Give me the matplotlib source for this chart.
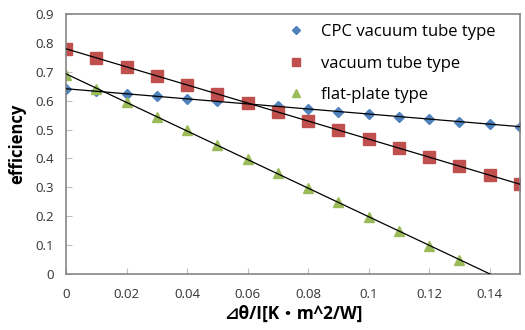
import numpy as np
import matplotlib
matplotlib.use("Agg")
import matplotlib.pyplot as plt

x_cpc = [0, 0.01, 0.02, 0.03, 0.04, 0.05, 0.06, 0.07, 0.08, 0.09, 0.10, 0.11, 0.12, 0.13, 0.14, 0.15]
cpc = [0.640, 0.633, 0.624, 0.615, 0.606, 0.598, 0.590, 0.580, 0.571, 0.562, 0.554, 0.545, 0.536, 0.527, 0.519, 0.510]
x_vac = [0, 0.01, 0.02, 0.03, 0.04, 0.05, 0.06, 0.07, 0.08, 0.09, 0.10, 0.11, 0.12, 0.13, 0.14, 0.15]
vac = [0.780, 0.748, 0.717, 0.686, 0.655, 0.623, 0.592, 0.560, 0.529, 0.498, 0.467, 0.436, 0.405, 0.373, 0.342, 0.311]
x_flat = [0, 0.01, 0.02, 0.03, 0.04, 0.05, 0.06, 0.07, 0.08, 0.09, 0.10, 0.11, 0.12, 0.13]
flat = [0.690, 0.640, 0.595, 0.545, 0.497, 0.448, 0.398, 0.348, 0.298, 0.248, 0.198, 0.148, 0.098, 0.048]

labels = ["CPC vacuum tube type", "vacuum tube type", "flat-plate type"]
colors = ["#4F81BD", "#C0504D", "#9BBB59"]
markers = ["D", "s", "^"]
msizes = [5.5, 8, 7.5]
xticks = [0, 0.02, 0.04, 0.06, 0.08, 0.1, 0.12, 0.14]
xticklabels = ["0", "0.02", "0.04", "0.06", "0.08", "0.1", "0.12", "0.14"]
yticks = [0, 0.1, 0.2, 0.3, 0.4, 0.5, 0.6, 0.7, 0.8, 0.9]
yticklabels = ["0", "0.1", "0.2", "0.3", "0.4", "0.5", "0.6", "0.7", "0.8", "0.9"]

plt.rcParams['font.family'] = ['Open Sans', 'DejaVu Sans', 'Noto Sans CJK JP']

fig = plt.figure(figsize=(5.25, 3.3), dpi=100)
ax = fig.add_axes([66/525, 56/330, 454/525, 260/330])

xx = np.linspace(0, 0.15, 200)
for xs, ys, lab, c, m, ms in zip([x_cpc, x_vac, x_flat], [cpc, vac, flat], labels, colors, markers, msizes):
    ax.plot(xs, ys, linestyle='none', marker=m, color=c, markersize=ms, label=lab, zorder=2)
    k, b = np.polyfit(xs, ys, 1)
    ax.plot(xx, k*xx + b, color='black', linewidth=0.9, zorder=3)

ax.set_xlim(0, 0.15)
ax.set_ylim(0, 0.9)
ax.set_xticks(xticks)
ax.set_xticklabels(xticklabels)
ax.set_yticks(yticks)
ax.set_yticklabels(yticklabels)
ax.tick_params(direction='in', length=4, color='#BFBFBF', labelsize=9.5, labelcolor='#333333')
ax.tick_params(axis='x', pad=10)
ax.tick_params(axis='y', pad=9)
for s in ax.spines.values():
    s.set_color('#868686')
    s.set_linewidth(1.2)

ax.set_ylabel("efficiency", fontsize=12, fontweight='bold', labelpad=6)
ax.set_xlabel("⊿θ/I[K・m^2/W]", fontsize=12.5, fontweight='bold', labelpad=3,
              family=['Open Sans', 'DejaVu Sans', 'Noto Sans CJK JP'])

ax.legend(loc='upper right', frameon=False, fontsize=12, handletextpad=0.8,
          handlelength=1.4, borderaxespad=0.2, labelspacing=0.93, markerscale=0.7,
          bbox_to_anchor=(0.969, 1.0))

fig.savefig("out.png", dpi=100)
